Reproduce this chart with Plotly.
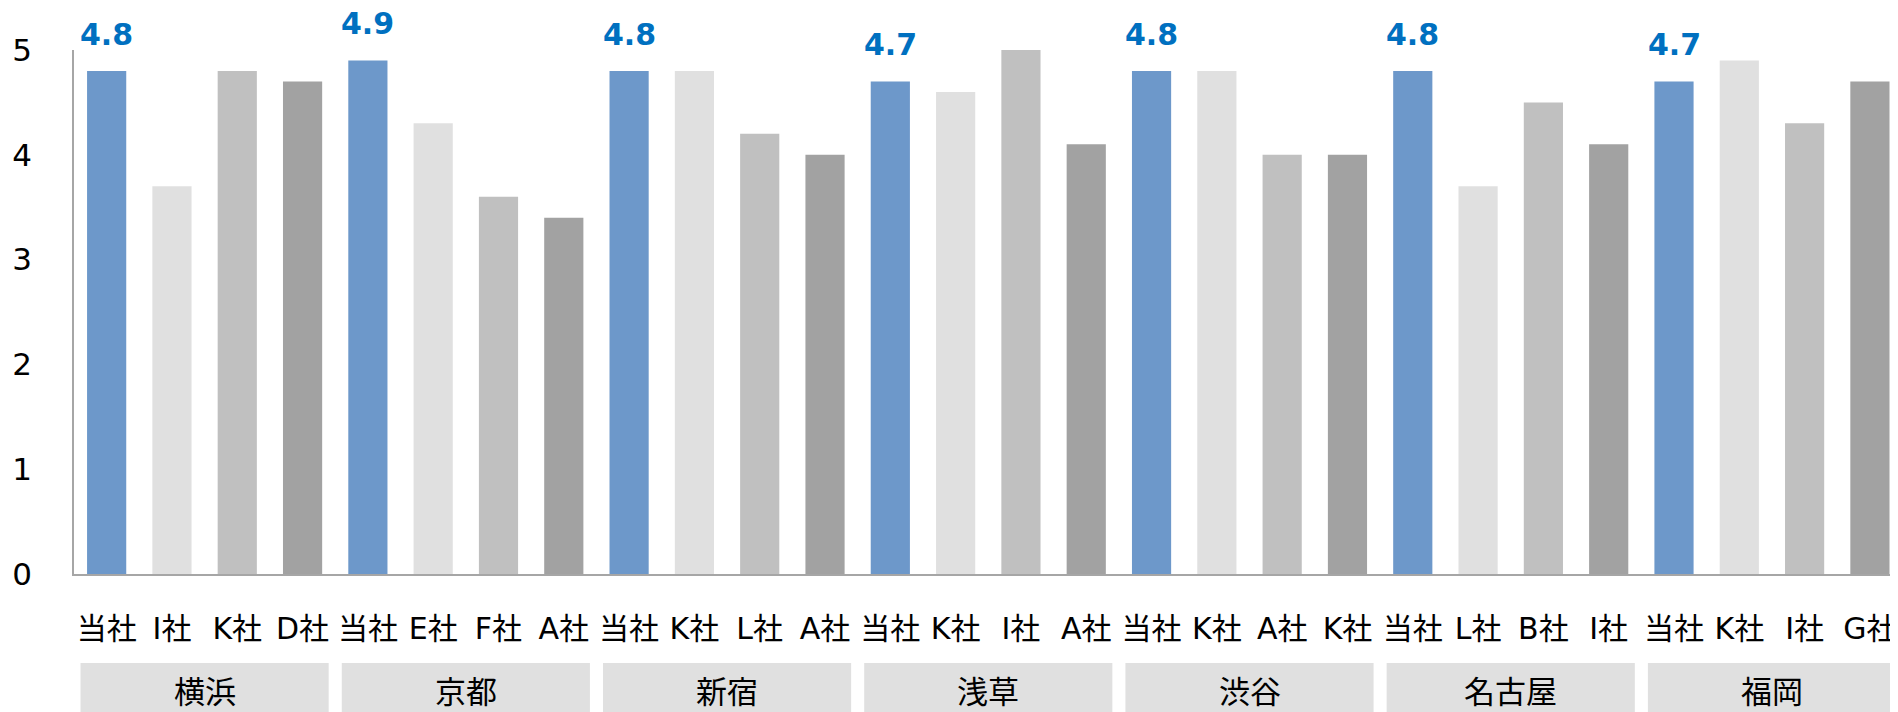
import plotly.graph_objects as go

regions = ["横浜", "京都", "新宿", "浅草", "渋谷", "名古屋", "福岡"]
companies = [
    ["当社", "I社", "K社", "D社"],
    ["当社", "E社", "F社", "A社"],
    ["当社", "K社", "L社", "A社"],
    ["当社", "K社", "I社", "A社"],
    ["当社", "K社", "A社", "K社"],
    ["当社", "L社", "B社", "I社"],
    ["当社", "K社", "I社", "G社"],
]
scores = [
    [4.8, 3.7, 4.8, 4.7],
    [4.9, 4.3, 3.6, 3.4],
    [4.8, 4.8, 4.2, 4.0],
    [4.7, 4.6, 5.0, 4.1],
    [4.8, 4.8, 4.0, 4.0],
    [4.8, 3.7, 4.5, 4.1],
    [4.7, 4.9, 4.3, 4.7],
]
y_ticks = [0, 1, 2, 3, 4, 5]

slot_colors = ["#6D98CA", "#E0E0E0", "#C0C0C0", "#A2A2A2"]
label_color = "#0070C0"
mixed = "DejaVu Sans, Noto Sans CJK JP"
cjk = "Noto Sans CJK JP"

xs, ys, cols, ticktext = [], [], [], []
for g, (names, vals) in enumerate(zip(companies, scores)):
    for k, (n, v) in enumerate(zip(names, vals)):
        xs.append(g * 4 + k)
        ys.append(v)
        cols.append(slot_colors[k])
        ticktext.append(n)

fig = go.Figure()
fig.add_trace(go.Bar(x=xs, y=ys, marker=dict(color=cols, line=dict(width=0)),
                     width=0.6, hoverinfo="skip", showlegend=False))

annotations = []
shapes = []
for g, (reg, vals) in enumerate(zip(regions, scores)):
    annotations.append(dict(x=g * 4, y=vals[0], xref="x", yref="y",
                            text=f"{vals[0]:.1f}", showarrow=False,
                            yanchor="middle", yshift=37, height=28, borderpad=0,
                            font=dict(family="DejaVu Sans", size=30, color=label_color,
                                      weight="bold")))
    shapes.append(dict(type="rect", xref="x", yref="paper",
                       x0=g * 4 - 0.5 + 0.1, x1=g * 4 + 3.5 - 0.1,
                       y0=-0.17, y1=-0.32, fillcolor="#E0E0E0",
                       line=dict(width=0), layer="below"))
    annotations.append(dict(x=g * 4 + 1.5, y=-0.221, xref="x", yref="paper",
                            text=reg, showarrow=False, yanchor="middle",
                            font=dict(family=cjk, size=31, color="#000000")))

fig.update_layout(
    width=1890, height=704,
    margin=dict(l=66, r=0, t=42, b=138),
    paper_bgcolor="white", plot_bgcolor="white",
    shapes=shapes, annotations=annotations,
    xaxis=dict(range=[-0.5, 27.43], tickmode="array", tickvals=xs, ticktext=ticktext,
               showgrid=False, zeroline=False, showline=True, linecolor="#A6A6A6",
               linewidth=1.5, ticks="", ticklabelstandoff=27, automargin=False,
               tickfont=dict(family=mixed, size=30, color="#000000")),
    yaxis=dict(range=[0, 5], tickmode="array", tickvals=y_ticks,
               ticktext=[str(t) for t in y_ticks],
               showgrid=False, zeroline=False, showline=True, linecolor="#A6A6A6",
               linewidth=1.5, ticks="", ticklabelstandoff=34, automargin=False,
               tickfont=dict(family="DejaVu Sans", size=31, color="#000000")),
)

fig.write_html("out.html")
